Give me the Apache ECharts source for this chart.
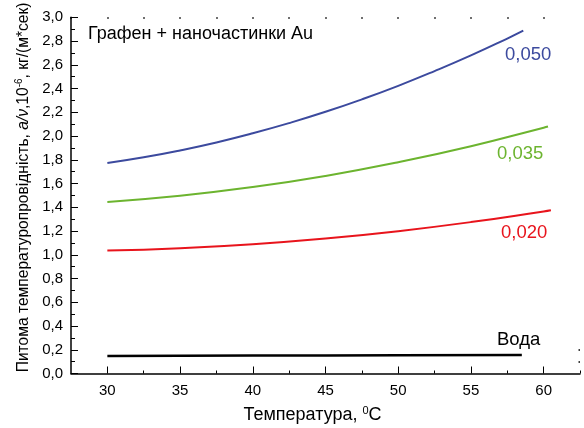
<!DOCTYPE html>
<html>
<head>
<meta charset="utf-8">
<script src="https://cdn.jsdelivr.net/npm/echarts@6/dist/echarts.min.js"></script>
<style>html,body{margin:0;padding:0;background:#fff}#c{width:584px;height:428px}</style>
</head>
<body>
<div id="c"></div>
<script>
// temperatures (°C) and specific thermal diffusivity a/ν (×10^-6)
var tempsC050 = [30, 32.5, 35, 37.5, 40, 42.5, 45, 47.5, 50, 52.5, 55, 57.5, 58.6];
var valsC050  = [1.773, 1.821, 1.879, 1.946, 2.023, 2.109, 2.204, 2.309, 2.423, 2.547, 2.679, 2.821, 2.887];
var tempsC035 = [30, 35, 40, 45, 50, 55, 60, 60.3];
var valsC035  = [1.445, 1.497, 1.570, 1.664, 1.779, 1.914, 2.07, 2.08];
var tempsC020 = [30, 35, 40, 45, 50, 55, 60, 60.5];
var valsC020  = [1.035, 1.055, 1.089, 1.137, 1.199, 1.275, 1.365, 1.375];
var tempsWater = [30, 40, 50, 58.5];
var valsWater  = [0.148, 0.151, 0.154, 0.156];
var seriesNames = ['0,050', '0,035', '0,020', 'Вода'];
var xMajorTicks = [30, 35, 40, 45, 50, 55, 60];
var xMinorTicks = [32.5, 37.5, 42.5, 47.5, 52.5, 57.5, 62.5];
var topDots = [27.5, 30, 32.5, 35, 37.5, 40, 42.5, 45, 47.5, 50, 52.5, 55, 57.5, 60];
var rightDots = [0.1, 0.2];

function pairs(xs, ys){ return xs.map(function(x,i){ return [x, ys[i]]; }); }
var FONT = 'Liberation Sans, Arial, sans-serif';
var colors = ['#3c4a9e', '#6cb42f', '#e8141c', '#000000'];

var chart = echarts.init(document.getElementById('c'), null, {renderer:'canvas'});
var fmt = function(v){ return v.toFixed(1).replace('.', ','); };

chart.setOption({
  animation: false,
  grid: {left: 71, right: 4, top: 17.3, bottom: 54.5, containLabel: false, outerBoundsMode: 'none'},
  xAxis: [
    {type:'value', min:27.5, max:62.5, position:'bottom',
     axisLine:{show:true, lineStyle:{color:'#000', width:1.5}},
     axisTick:{show:true, inside:true, length:7, customValues: xMajorTicks, lineStyle:{color:'#000', width:1}},
     axisLabel:{show:true, customValues: xMajorTicks, color:'#000', fontSize:15, fontFamily:FONT, margin:10},
     splitLine:{show:false},
     name:'{n|Температура, }{s|0}{n|C}', nameLocation:'middle', nameGap:32,
     nameTextStyle:{padding:[0,26,0,0], rich:{
       n:{fontSize:18, fontFamily:FONT, color:'#000', lineHeight:20},
       s:{fontSize:11, fontFamily:FONT, color:'#000', lineHeight:11, verticalAlign:'top'}}}
    },
    {type:'value', min:27.5, max:62.5, position:'bottom',
     axisLine:{show:false},
     axisTick:{show:true, inside:true, length:3, customValues: xMinorTicks, lineStyle:{color:'#000', width:1}},
     axisLabel:{show:false}, splitLine:{show:false}
    },
    {type:'value', min:27.5, max:62.5, position:'top',
     axisLine:{show:false},
     axisTick:{show:true, inside:true, length:1.5, customValues: topDots, lineStyle:{color:'#000', width:1.5}},
     axisLabel:{show:false}, splitLine:{show:false}
    }
  ],
  yAxis: [
    {type:'value', min:0, max:3, interval:0.2,
     axisLine:{show:true, lineStyle:{color:'#000', width:1.5}},
     axisTick:{show:true, inside:true, length:7, lineStyle:{color:'#000', width:1}},
     minorTick:{show:true, splitNumber:2, length:4, lineStyle:{color:'#000', width:1}},
     axisLabel:{color:'#000', fontSize:15, fontFamily:FONT, margin:8, formatter: fmt},
     splitLine:{show:false}, minorSplitLine:{show:false},
     name:'{n|Питома температуропровідність, }{i|a/ν}{n|,10}{s|-6}{n|, кг/(м*сек)}',
     nameLocation:'middle', nameRotate:90, nameGap:38,
     nameTextStyle:{padding:[0,0,0,16], rich:{
       n:{fontSize:15.6, fontFamily:FONT, color:'#000', lineHeight:18},
       i:{fontSize:15.6, fontFamily:FONT, fontStyle:'italic', color:'#000', lineHeight:18},
       s:{fontSize:10, fontFamily:FONT, color:'#000', lineHeight:10, verticalAlign:'top'}}}
    },
    {type:'value', min:0, max:3, position:'right',
     axisLine:{show:false},
     axisTick:{show:true, inside:true, length:1.5, customValues: rightDots, lineStyle:{color:'#000', width:1.5}},
     axisLabel:{show:false}, splitLine:{show:false}
    }
  ],
  series: [
    {name:seriesNames[0], type:'line', smooth:true, showSymbol:false, data:pairs(tempsC050, valsC050), lineStyle:{color:colors[0], width:2}},
    {name:seriesNames[1], type:'line', smooth:true, showSymbol:false, data:pairs(tempsC035, valsC035), lineStyle:{color:colors[1], width:2}},
    {name:seriesNames[2], type:'line', smooth:true, showSymbol:false, data:pairs(tempsC020, valsC020), lineStyle:{color:colors[2], width:2}},
    {name:seriesNames[3], type:'line', smooth:true, showSymbol:false, data:pairs(tempsWater, valsWater), lineStyle:{color:colors[3], width:2.5}}
  ],
  graphic: [
    {type:'text', left:88, top:25, style:{text:'Графен + наночастинки Au', font:'18px ' + FONT, fill:'#000'}},
    {type:'text', left:505, top:45, style:{text:seriesNames[0], font:'18.5px ' + FONT, fill:colors[0]}},
    {type:'text', left:497, top:144, style:{text:seriesNames[1], font:'18.5px ' + FONT, fill:colors[1]}},
    {type:'text', left:501, top:223, style:{text:seriesNames[2], font:'18.5px ' + FONT, fill:colors[2]}},
    {type:'text', left:497, top:330, style:{text:seriesNames[3], font:'18.5px ' + FONT, fill:'#000'}}
  ]
});
</script>
</body>
</html>
